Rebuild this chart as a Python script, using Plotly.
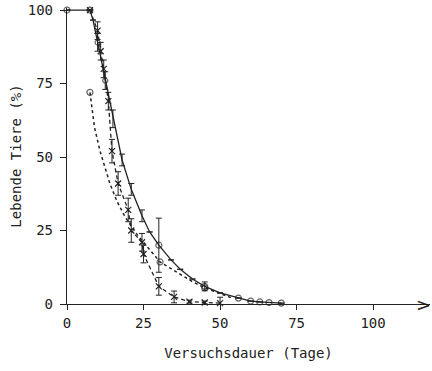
import plotly.graph_objects as go

# Solid curve (circles)
days_a = [0, 7.5, 8.5, 10, 12.5, 15, 18, 21, 24.5, 27, 30, 34, 37, 41, 45, 50, 56, 60, 63, 66, 70]
surv_a = [100, 100, 96.6, 89, 76, 63, 49, 39, 30, 24.5, 20, 15, 11.8, 8.5, 6, 3.8, 2, 1, 0.7, 0.5, 0.3]
err_a = [0, 0, 0, 3, 3, 3, 2, 2, 2, 0, 9.2, 0, 0, 0, 1.5, 0, 0, 0, 0, 0, 0]
mark_a = [6, 6, 0, 5, 5, 0, 0, 0, 0, 0, 6, 0, 0, 0, 6, 0, 6, 6, 6, 6, 6]

# Dashed curve (crosses)
days_b = [7.5, 10, 11, 12, 13.5, 14.7, 16.7, 20, 21, 24.5, 25, 30, 35, 40, 45, 50]
surv_b = [100, 93, 86, 80, 69, 52, 41, 32, 25, 21, 17, 6, 2.4, 0.8, 0.5, 0.3]
err_b = [0, 3, 3, 3, 3, 4, 4, 4, 4, 3, 3, 3, 2, 0.5, 0.5, 2]

# Dotted curve (circles)
days_c = [7.5, 9, 10.8, 12.5, 14, 16.3, 19, 23, 27, 30.4, 34, 37, 41, 45, 50, 54]
surv_c = [72, 60, 52, 46, 41, 35, 29.6, 23.5, 18.4, 14.3, 12, 10, 7.6, 5.5, 3.5, 2]
mark_c = [6, 0, 0, 0, 0, 0, 0, 0, 0, 6, 0, 0, 0, 6, 0, 0]

x_ticks = [0, 25, 50, 75, 100]
y_ticks = [0, 25, 50, 75, 100]

ink = "#222222"
font = dict(family="DejaVu Sans Mono", size=13, color=ink)

fig = go.Figure()
fig.add_trace(go.Scatter(
    x=days_a, y=surv_a, mode="lines+markers",
    line=dict(color=ink, width=1.3),
    marker=dict(symbol="circle-open", size=mark_a, color=ink, line=dict(width=1.2)),
    error_y=dict(type="data", array=err_a, color=ink, thickness=1, width=3),
    cliponaxis=False, showlegend=False))
fig.add_trace(go.Scatter(
    x=days_b, y=surv_b, mode="lines+markers",
    line=dict(color=ink, width=1.3, dash="4px,3px"),
    marker=dict(symbol="x-thin-open", size=6, color=ink, line=dict(width=1.2, color=ink)),
    error_y=dict(type="data", array=err_b, color=ink, thickness=1, width=3),
    cliponaxis=False, showlegend=False))
fig.add_trace(go.Scatter(
    x=days_c, y=surv_c, mode="lines+markers",
    line=dict(color=ink, width=1.5, dash="dot"),
    marker=dict(symbol="circle-open", size=mark_c, color=ink, line=dict(width=1.2)),
    cliponaxis=False, showlegend=False))

fig.add_annotation(text=">", x=1, y=0, xref="paper", yref="paper",
                   xanchor="right", yanchor="middle", showarrow=False,
                   font=dict(family="DejaVu Sans", size=18, color=ink), xshift=3)

fig.update_layout(
    width=432, height=371,
    margin=dict(l=67, r=2, t=8, b=67),
    paper_bgcolor="white", plot_bgcolor="white",
    font=font,
    xaxis=dict(range=[0, 118.6], tickvals=x_ticks, ticks="outside", ticklen=5,
               tickcolor=ink, showline=True, linecolor=ink, linewidth=1.3,
               showgrid=False, zeroline=False, ticklabelstandoff=1,
               tickfont=dict(family="DejaVu Sans Mono", size=14, color=ink),
               title=dict(text="Versuchsdauer (Tage)", standoff=18,
                          font=dict(family="DejaVu Sans Mono", size=14, color=ink))),
    yaxis=dict(range=[0, 100.7], tickvals=y_ticks, ticks="outside", ticklen=6,
               tickcolor=ink, showline=True, linecolor=ink, linewidth=1.3,
               showgrid=False, zeroline=False, ticklabelstandoff=4,
               tickfont=dict(family="DejaVu Sans Mono", size=14, color=ink),
               title=dict(text="Lebende Tiere (%)", standoff=2,
                          font=dict(family="DejaVu Sans Mono", size=14, color=ink))),
)

fig.write_html("out.html")
